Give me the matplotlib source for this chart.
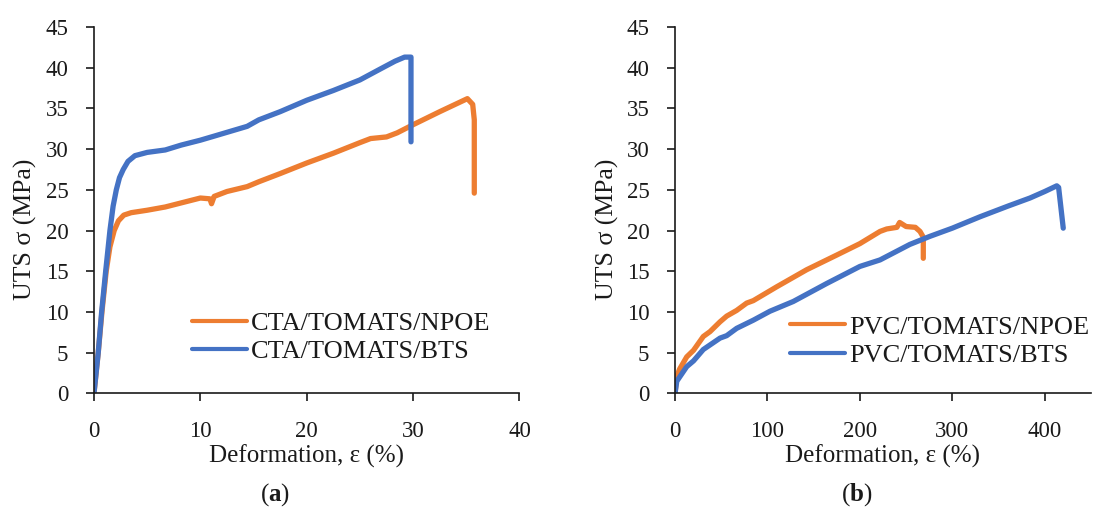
import matplotlib

matplotlib.use("Agg")
import matplotlib.pyplot as plt  # noqa: E402

plt.rcParams["font.family"] = ["Liberation Serif", "DejaVu Serif"]
plt.rcParams["mathtext.fontset"] = "custom"
plt.rcParams["mathtext.rm"] = "Liberation Serif"
plt.rcParams["mathtext.bf"] = "Liberation Serif:bold"

ORANGE = "#ED7D31"
BLUE = "#4472C4"
INK = "#1a1a1a"

# (a) CTA membranes
cta_npoe_x = [0, 0.4, 0.75, 1.15, 1.5, 1.9, 2.3, 2.8, 3.5, 5.0, 6.7, 8.2, 10.0, 10.9,
              11.05, 11.3, 12.5, 14.4, 15.5, 17.5, 20.0, 22.5, 25.0, 26.0, 27.5, 28.5,
              30.0, 32.5, 35.1, 35.6, 35.75, 35.75]
cta_npoe_y = [0, 5, 10, 15, 18, 20, 21.2, 21.9, 22.2, 22.5, 22.9, 23.4, 24.0, 23.9,
              23.3, 24.2, 24.8, 25.4, 26.0, 27.0, 28.3, 29.5, 30.8, 31.3, 31.5, 32.0,
              33.0, 34.6, 36.2, 35.5, 33.6, 24.6]
cta_bts_x = [0, 0.4, 0.72, 1.1, 1.5, 1.8, 2.1, 2.4, 2.75, 3.2, 3.85, 5.0, 6.7, 8.2,
             10.0, 11.3, 14.4, 15.5, 17.5, 20.0, 22.5, 25.0, 27.0, 28.3, 29.2, 29.8, 29.8]
cta_bts_y = [0, 5, 10, 15, 20, 23, 25, 26.5, 27.5, 28.5, 29.2, 29.6, 29.9, 30.5,
             31.1, 31.6, 32.8, 33.6, 34.6, 36.0, 37.2, 38.5, 39.9, 40.8, 41.3, 41.3, 30.9]

# (b) PVC membranes
pvc_npoe_x = [0, 1.9, 5, 12.7, 20, 30.6, 37.9, 48.7, 55.9, 66.7, 77.5, 84.7, 110,
              142.5, 175, 200, 221.8, 229, 240, 243, 250, 260, 265, 268.6, 268.6]
pvc_npoe_y = [0, 2.1, 3.0, 4.5, 5.3, 7.0, 7.6, 8.8, 9.5, 10.2, 11.1, 11.4, 13.1,
              15.2, 17.0, 18.4, 19.9, 20.2, 20.4, 21.0, 20.5, 20.4, 19.9, 19.2, 16.6]
pvc_bts_x = [0, 1.9, 12.7, 20, 30.6, 48.7, 55.9, 66.7, 84.7, 102.7, 128, 164, 200,
             221.8, 254, 275.9, 300, 330, 360, 384, 400, 413, 415, 420]
pvc_bts_y = [0, 1.5, 3.3, 4.0, 5.4, 6.8, 7.1, 8.0, 9.0, 10.1, 11.3, 13.5, 15.6,
             16.4, 18.3, 19.3, 20.3, 21.7, 23.0, 24.0, 24.8, 25.5, 25.3, 20.3]

panels = [
    dict(pos=[0.0855, 0.2254, 0.3872, 0.7215], xlim=40, xstep=10,
         curves=[(cta_npoe_x, cta_npoe_y, "CTA/TOMATS/NPOE", ORANGE),
                 (cta_bts_x, cta_bts_y, "CTA/TOMATS/BTS", BLUE)],
         leg=(0.2296, 0.224), cap=(275, "a")),
    dict(pos=[0.6142, 0.2254, 0.3785, 0.7215], xlim=450, xstep=100,
         curves=[(pvc_npoe_x, pvc_npoe_y, "PVC/TOMATS/NPOE", ORANGE),
                 (pvc_bts_x, pvc_bts_y, "PVC/TOMATS/BTS", BLUE)],
         leg=(0.276, 0.214), cap=(857, "b")),
]

fig = plt.figure(figsize=(10.99, 5.08), dpi=100)
for p in panels:
    ax = fig.add_axes(p["pos"])
    for xs, ys, label, color in p["curves"]:
        ax.plot(xs, ys, color=color, lw=3.8, label=label,
                solid_capstyle="round", solid_joinstyle="round")
    ax.set_xlim(0, p["xlim"])
    ax.set_ylim(0, 45)
    ax.set_xticks(range(0, p["xlim"] - p["xlim"] % p["xstep"] + 1, p["xstep"]))
    ax.set_yticks(range(0, 46, 5))
    ax.tick_params(axis="x", direction="out", length=6, width=1.2, pad=14,
                   labelsize=16.5, colors=INK)
    ax.tick_params(axis="y", direction="out", length=5.5, width=1.2, pad=13,
                   labelsize=16.5, colors=INK)
    for spine in ("top", "right"):
        ax.spines[spine].set_visible(False)
    for spine in ("left", "bottom"):
        ax.spines[spine].set_linewidth(1.2)
        ax.spines[spine].set_color(INK)
    ax.set_xlabel("Deformation, ε (%)", fontsize=18, color=INK, va="top")
    ax.xaxis.set_label_coords(0.5, -0.14)
    ax.set_ylabel("UTS σ (MPa)", fontsize=18.5, color=INK)
    ax.yaxis.set_label_coords(-0.135, 0.449)
    leg = ax.legend(loc="upper left", bbox_to_anchor=p["leg"], frameon=False,
                    fontsize=19, handlelength=2.1, handletextpad=0.15,
                    labelspacing=0.18, borderpad=0, borderaxespad=0)
    for line in leg.get_lines():
        line.set_linewidth(3.0)
    for t in leg.get_texts():
        t.set_color(INK)
    cx, letter = p["cap"]
    fig.text(cx / 1099, 1 - 495 / 508, "(" + r"$\mathbf{" + letter + "}$" + ")",
             ha="center", va="center", fontsize=18, color=INK)

fig.savefig("out.png", dpi=100)
